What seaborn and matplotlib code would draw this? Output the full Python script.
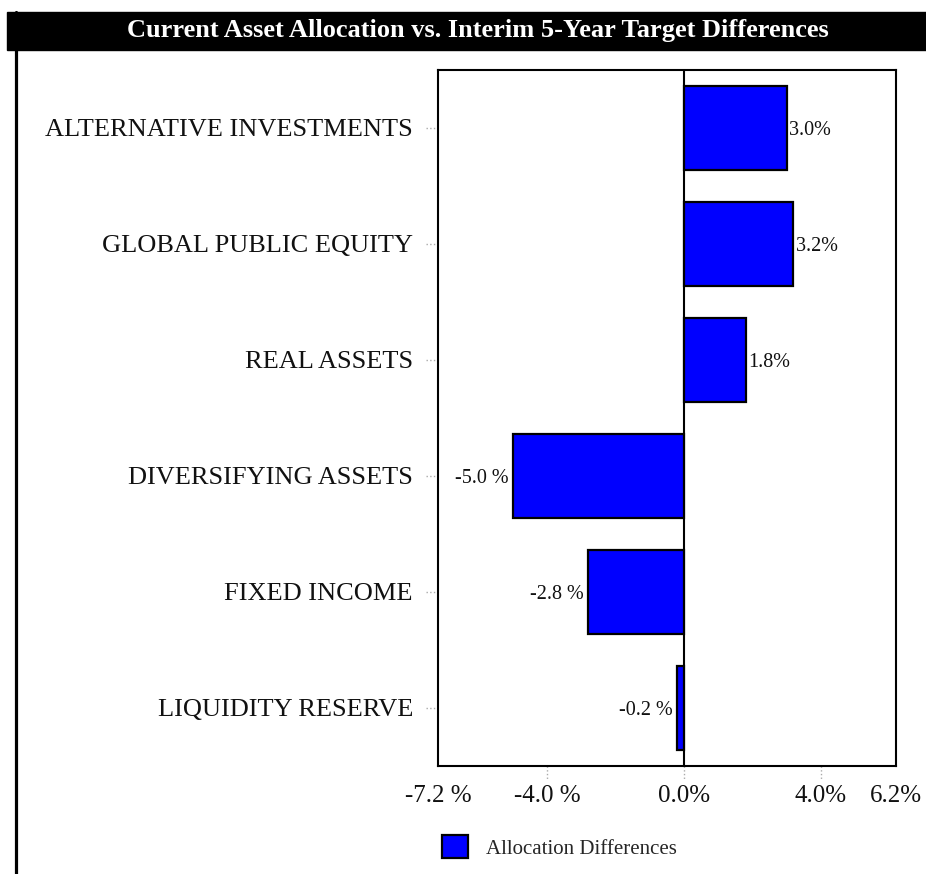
import matplotlib
matplotlib.use("Agg")
import matplotlib.pyplot as plt
import matplotlib.patches as mpatches
import matplotlib.lines as mlines
import matplotlib.transforms as mtrans
import pandas as pd
import seaborn as sns

# chart values
categories = ["ALTERNATIVE INVESTMENTS", "GLOBAL PUBLIC EQUITY", "REAL ASSETS",
              "DIVERSIFYING ASSETS", "FIXED INCOME", "LIQUIDITY RESERVE"]
differences = [3.0, 3.2, 1.8, -5.0, -2.8, -0.2]
bar_labels = ["3.0%", "3.2%", "1.8%", "-5.0 %", "-2.8 %", "-0.2 %"]
tick_values = [-7.2, -4.0, 0.0, 4.0, 6.2]
tick_labels = ["-7.2 %", "-4.0 %", "0.0%", "4.0%", "6.2%"]
series_name = "Allocation Differences"
title = "Current Asset Allocation vs. Interim 5-Year Target Differences"

sns.set_style("white")
plt.rcParams["font.family"] = ["Liberation Serif", "DejaVu Serif"]

df = pd.DataFrame({"category": categories, "difference": differences})

W, H = 926, 874
fig = plt.figure(figsize=(W / 100, H / 100), dpi=100)
ax = fig.add_axes([438 / W, 1 - 766 / H, (896 - 438) / W, (766 - 70) / H])

sns.barplot(data=df, x="difference", y="category", orient="h", color="#0000FF",
            saturation=1, edgecolor="black", linewidth=1.6, width=0.72, ax=ax)

ax.set_xlim(-7.2, 6.2)
ax.set_ylim(5.5, -0.5)
ax.axvline(0, color="black", lw=1.5, zorder=0)

# bar value labels
for patch, val, lab in zip(ax.patches, differences, bar_labels):
    y = patch.get_y() + patch.get_height() / 2
    if val >= 0:
        ax.annotate(lab, (val, y), xytext=(2, -1.5), textcoords="offset points",
                    ha="left", va="center", fontsize=14.5, color="#111111")
    else:
        ax.annotate(lab, (val, y), xytext=(-3, -1.5), textcoords="offset points",
                    ha="right", va="center", fontsize=14.5, color="#111111")

# axes ticks and labels
ax.set_xticks(tick_values)
ax.set_xticklabels(tick_labels)
ax.tick_params(axis="x", length=0, pad=14, labelsize=18, labelcolor="#111111")
ax.tick_params(axis="y", length=0, pad=18, labelsize=19, labelcolor="#111111")
ax.set_xlabel("")
ax.set_ylabel("")

# dotted tick marks
xtr = mtrans.blended_transform_factory(ax.transData, ax.transAxes)
for v in [-4.0, 0.0, 4.0]:
    ax.plot([v, v], [0, -0.018], transform=xtr, clip_on=False,
            color="#aaaaaa", lw=1, ls=":")
ytr = mtrans.blended_transform_factory(ax.transAxes, ax.transData)
for i in range(len(categories)):
    ax.plot([-0.026, 0], [i, i], transform=ytr, clip_on=False,
            color="#aaaaaa", lw=1, ls=":")

for s in ax.spines.values():
    s.set_visible(True)
    s.set_color("black")
    s.set_linewidth(1.5)

# title bar and left rule
fig.add_artist(mpatches.Rectangle((7 / W, 1 - 50 / H), 1 - 7 / W, 38 / H,
                                  transform=fig.transFigure, color="black"))
fig.text(478 / W, 1 - 31 / H, title, color="white", fontsize=19,
         fontweight="bold", ha="center", va="center")
fig.add_artist(mlines.Line2D([15.5 / W, 15.5 / W], [0, 1 - 12 / H],
                             transform=fig.transFigure, color="black", lw=2.3))

# legend
handle = mpatches.Patch(facecolor="#0000FF", edgecolor="black", linewidth=1.6,
                        label=series_name)
fig.legend(handles=[handle], loc="center left",
           bbox_to_anchor=(442 / W, 1 - 847 / H), frameon=False, fontsize=15,
           handlelength=1.25, handleheight=1.3, handletextpad=0.85,
           borderpad=0, borderaxespad=0)

fig.savefig("out.png", dpi=100, facecolor="white")
